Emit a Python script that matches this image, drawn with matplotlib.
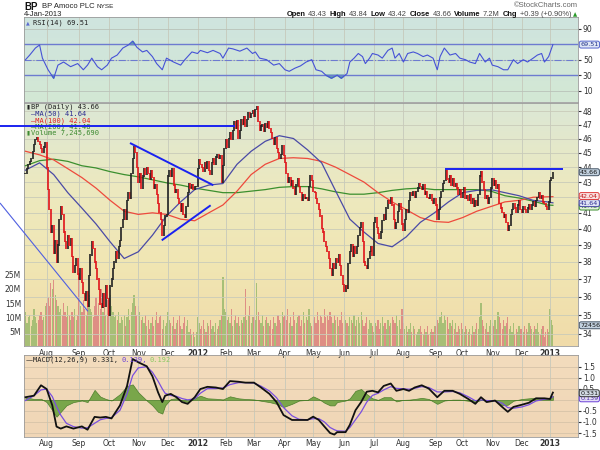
import numpy as np
import pandas as pd
import matplotlib
matplotlib.use("Agg")
import matplotlib.pyplot as plt
from matplotlib.colors import LinearSegmentedColormap
from matplotlib.ticker import FixedLocator, FixedFormatter, NullLocator

##############################################################################
# DATA (Jul-2011 .. 4-Jan-2013)
##############################################################################

holidays = ["2011-09-05", "2011-11-24", "2011-12-26", "2012-01-02", "2012-01-16",
            "2012-02-20", "2012-04-06", "2012-05-28", "2012-07-04", "2012-09-03",
            "2012-10-29", "2012-10-30", "2012-11-22", "2012-12-25", "2013-01-01"]

closes = [
    # Jul 2011
    43.6, 43.9, 44.2, 44.4, 44.6, 45.1, 45.6, 45.9, 46.1, 45.8, 45.6, 45.3, 45.0, 45.4, 45.7,
    # Aug
    44.0, 42.5, 41.2, 39.8, 40.2, 38.5, 39.3, 38.0, 39.0, 40.6, 41.4, 40.9, 39.8, 39.2, 38.8,
    39.6, 39.0, 39.4, 38.3, 37.4, 37.8, 38.2, 37.3,
    # Sep
    37.0, 37.6, 36.8, 36.2, 35.8, 36.3, 35.5, 37.2, 38.4, 39.2, 38.8, 38.0, 37.6, 37.0, 36.4,
    35.6, 35.4, 36.2, 35.5, 36.6, 35.9,
    # Oct
    35.0, 36.6, 37.0, 37.6, 38.0, 38.6, 38.2, 38.9, 39.3, 40.1, 40.6, 41.2, 40.6, 41.8, 42.3,
    41.9, 43.6, 44.6, 45.4, 45.0, 44.0,
    # Nov
    43.0, 43.6, 42.6, 43.4, 43.9, 43.5, 44.0, 43.6, 43.2, 43.8, 43.3, 42.6, 42.8, 42.2, 41.6,
    41.0, 40.6, 39.6, 40.2, 40.8, 40.9,
    # Dec
    43.4, 43.8, 43.4, 43.9, 42.8, 42.3, 42.5, 41.9, 41.6, 41.1, 41.6, 40.9, 40.7, 41.4, 42.3,
    42.9, 42.6, 42.8, 42.5, 42.7, 42.7,
    # Jan 2012
    43.9, 44.5, 44.2, 44.0, 43.7, 44.3, 43.9, 44.4, 43.8, 43.5, 44.3, 44.6, 44.2, 44.7, 44.9,
    44.6, 44.8, 43.0, 44.1, 45.3,
    # Feb
    45.9, 45.4, 46.0, 46.4, 45.9, 46.6, 47.2, 46.7, 47.3, 46.0, 46.6, 47.4, 47.0, 47.6, 46.9,
    47.4, 47.9, 47.5, 47.8, 48.0,
    # Mar
    47.6, 48.1, 48.3, 47.2, 46.6, 46.9, 47.0, 46.5, 47.1, 46.8, 47.2, 46.7, 46.4, 46.0, 45.6,
    46.1, 45.3, 45.0, 44.6, 44.9, 45.5, 44.8,
    # Apr
    44.3, 43.6, 43.0, 43.3, 42.8, 43.1, 42.6, 42.2, 42.8, 43.2, 42.7, 42.3, 41.8, 42.2, 41.9,
    42.0, 41.8, 42.7, 43.4, 43.1,
    # May
    42.4, 42.3, 41.9, 41.6, 41.2, 40.8, 40.0, 39.8, 39.2, 38.9, 38.6, 38.2, 37.6, 37.2, 37.9,
    37.6, 38.2, 38.0, 38.4, 37.8, 37.2, 36.7,
    # Jun
    36.3, 36.6, 36.5, 37.9, 38.6, 39.0, 38.3, 38.9, 38.5, 38.9, 39.6, 40.1, 40.4, 39.2, 38.0,
    37.8, 37.6, 38.2, 38.6, 38.9, 38.4,
    # Jul
    40.4, 40.7, 40.1, 39.7, 39.4, 39.8, 40.5, 40.9, 40.6, 41.3, 41.8, 41.6, 42.0, 41.5, 40.6,
    40.0, 40.4, 41.1, 41.6, 41.2, 40.3,
    # Aug
    39.9, 40.6, 41.2, 41.0, 41.8, 42.3, 42.1, 42.4, 42.0, 42.4, 42.6, 42.9, 42.7, 42.5, 42.8,
    42.2, 42.4, 42.0, 41.9, 42.2, 41.8, 41.6, 41.9,
    # Sep
    41.5, 40.6, 41.2, 42.0, 42.4, 42.9, 43.1, 43.8, 43.2, 43.0, 43.4, 42.8, 43.2, 42.7, 42.9,
    42.6, 42.2, 42.5, 42.0,
    # Oct
    42.3, 42.6, 41.9, 42.1, 41.8, 42.2, 41.6, 41.9, 41.4, 41.8, 41.5, 42.2, 43.4, 43.7, 43.0,
    42.5, 41.9, 42.1, 41.6, 42.0, 42.6,
    # Nov
    43.2, 42.8, 43.1, 42.6, 42.8, 41.6, 41.3, 41.0, 40.7, 40.9, 40.4, 39.9, 40.2, 40.9, 41.2,
    41.6, 41.3, 41.0, 41.5, 41.8, 41.2,
    # Dec
    41.0, 41.4, 41.2, 41.0, 41.3, 41.5, 41.2, 41.5, 41.7, 41.4, 41.8, 42.0, 42.3, 41.9, 42.1,
    41.7, 41.6, 41.4, 41.2, 41.7,
    # Jan 2013
    43.1, 43.27, 43.66,
]

volume_m = [
    12, 8, 10, 11, 7, 9, 13, 10, 8, 9, 11, 12, 9, 10, 14,
    15, 17, 14, 22, 20, 23, 18, 16, 14, 12, 13, 11, 15, 12, 10, 14, 11, 9, 12, 10, 13, 9, 11,
    24, 14, 12, 16, 13, 11, 15, 18, 13, 12, 10, 14, 17, 11, 15, 13, 20, 12, 14, 11, 16,
    16, 18, 14, 12, 10, 11, 9, 12, 8, 10, 9, 11, 7, 10, 13, 9, 12, 15, 18, 14, 11,
    14, 12, 9, 10, 8, 11, 7, 9, 6, 8, 10, 7, 9, 12, 8, 10, 11, 6, 9, 7, 8,
    12, 9, 8, 7, 10, 6, 8, 9, 11, 7, 6, 8, 10, 7, 9, 5, 6, 4, 5, 3, 5,
    10, 8, 6, 7, 9, 6, 5, 8, 7, 9, 6, 7, 5, 8, 6, 7, 9, 11, 24, 13,
    12, 9, 10, 8, 13, 7, 9, 11, 8, 10, 7, 9, 8, 10, 20, 9, 11, 14, 8, 10,
    10, 9, 22, 12, 9, 8, 11, 7, 9, 10, 8, 7, 9, 6, 10, 8, 7, 11, 9, 8, 12, 10,
    11, 9, 13, 8, 10, 7, 12, 9, 8, 10, 11, 7, 9, 12, 8, 10, 9, 13, 8, 7,
    9, 10, 8, 12, 9, 11, 10, 8, 13, 10, 11, 9, 12, 10, 8, 11, 9, 10, 7, 9, 12, 8,
    12, 9, 8, 7, 10, 9, 8, 11, 7, 9, 10, 8, 12, 9, 7, 8, 10, 6, 9, 8, 7,
    5, 8, 7, 9, 6, 8, 10, 7, 8, 6, 9, 7, 8, 10, 9, 8, 11, 7, 9, 6, 13,
    8, 6, 7, 5, 6, 8, 5, 7, 6, 4, 5, 6, 7, 5, 4, 6, 5, 7, 4, 5, 6, 5, 7,
    7, 9, 8, 10, 12, 8, 11, 9, 10, 6, 8, 7, 9, 6, 8, 5, 7, 6, 8,
    6, 5, 7, 6, 5, 6, 4, 7, 5, 6, 8, 6, 10, 15, 9, 7, 6, 8, 5, 7, 9,
    8, 7, 9, 6, 12, 10, 8, 6, 9, 7, 8, 10, 6, 7, 5, 8, 4, 6, 5, 7, 6,
    6, 5, 7, 6, 5, 8, 7, 6, 5, 7, 6, 8, 5, 4, 6, 7, 3, 5, 6, 5,
    13, 9, 7.2,
]

# moving averages, sampled every 10 trading days
ma_day = [0, 10, 20, 30, 40, 50, 60, 70, 80, 90, 100, 110, 120, 130, 140, 150, 160, 170, 180,
          190, 200, 210, 220, 230, 240, 250, 260, 270, 280, 290, 300, 310, 320, 330, 340, 350,
          360, 370, 374]
ma50 = [43.8, 44.3, 43.5, 42.3, 41.3, 40.3, 39.2, 38.2, 38.6, 39.6, 40.8, 41.7, 42.5, 42.8,
        42.9, 44.2, 45.1, 45.8, 46.2, 46.0, 45.2, 44.3, 42.4, 40.6, 39.8, 39.1, 38.9, 39.5,
        40.4, 41.0, 41.7, 42.3, 42.45, 42.5, 42.3, 42.1, 41.8, 41.7, 41.64]
ma100 = [45.1, 44.85, 44.5, 43.9, 43.3, 42.6, 41.8, 41.1, 40.9, 41.0, 40.9, 40.6, 40.5, 41.0,
         41.5, 42.4, 43.5, 44.2, 44.6, 44.65, 44.6, 44.4, 44.0, 43.5, 43.0, 42.3, 41.7, 41.2,
         40.7, 40.45, 40.4, 40.7, 41.1, 41.4, 41.7, 41.8, 42.0, 42.03, 42.04]
ma200 = [44.1, 44.45, 44.55, 44.4, 44.1, 43.95, 43.7, 43.5, 43.35, 43.15, 42.95, 42.8, 42.6,
         42.45, 42.3, 42.3, 42.4, 42.5, 42.65, 42.7, 42.7, 42.55, 42.35, 42.2, 42.2, 42.3,
         42.45, 42.55, 42.6, 42.5, 42.5, 42.5, 42.5, 42.4, 42.1, 41.95, 41.75, 41.5, 41.48]

rsi_day = [0, 3, 7, 10, 12, 16, 20, 23, 27, 32, 37, 41, 44, 47, 51, 54, 58, 61, 65, 69, 73, 76,
           79, 83, 86, 90, 93, 97, 100, 105, 110, 113, 118, 122, 124, 129, 133, 138, 140, 144,
           147, 152, 157, 161, 163, 166, 171, 176, 180, 184, 187, 191, 195, 199, 203, 206, 210,
           213, 217, 221, 224, 228, 230, 233, 236, 239, 241, 244, 246, 250, 253, 257, 260, 262,
           265, 268, 271, 275, 278, 282, 285, 289, 292, 294, 297, 301, 305, 308, 312, 315, 319,
           322, 326, 329, 331, 335, 339, 342, 346, 349, 353, 356, 360, 363, 366, 368, 371, 374]
rsi = [50, 56, 65, 69, 52, 37, 26, 43, 47, 41, 45, 37, 43, 52, 41, 37, 43, 52, 56, 65, 69, 74,
       66, 60, 62, 54, 45, 37, 52, 47, 43, 50, 60, 58, 62, 59, 62, 58, 52, 65,
       64, 61, 65, 58, 60, 52, 50, 43, 45, 37, 35, 39, 42, 47, 50, 37, 35,
       30, 26, 30, 26, 32, 47, 52, 58, 54, 45, 52, 58, 56, 52, 62, 65, 52,
       58, 47, 58, 60, 58, 54, 56, 52, 37, 54, 65, 56, 58, 52, 50, 47, 45,
       58, 47, 52, 43, 41, 37, 37, 50, 45, 50, 47, 52, 56, 58, 47, 54, 69.5]

macd_day = [0, 6, 11, 15, 19, 22, 25, 29, 34, 40, 44, 49, 53, 57, 61, 67, 72, 76, 80, 86,
            90, 94, 97, 99, 103, 107, 111, 115, 120, 124, 129, 135, 140, 145, 151, 156, 162,
            167, 173, 178, 183, 189, 194, 200, 204, 208, 212, 216, 219, 221, 227, 230, 234,
            238, 242, 246, 250, 254, 259, 263, 268, 272, 276, 281, 286, 292, 297, 303, 308,
            314, 319, 323, 327, 333, 338, 342, 346, 352, 357, 362, 368, 372, 374]
macd = [0.12, 0.19, 0.66, 0.49, -0.25, -1.21, -1.3, -1.2, -1.3, -1.2,
        -1.35, -0.77, -0.8, -0.77, -0.84, -0.25, 0.63, 1.85, 1.7, 1.52,
        1.07, 0.34, -0.1, 0.19, 0.27, 0.12, -0.1, -0.18, 0.12, 0.49,
        0.59, 0.56, 0.49, 0.85, 0.82, 0.78, 0.78, 0.56, 0.27, -0.1,
        -0.69, -0.91, -0.91, -0.91, -0.76, -0.91, -1.21, -1.5, -1.57, -1.46,
        -1.46, -1.13, -0.47, -0.1, 0.37, 0.41, 0.34, 0.63, 0.74, 0.41,
        0.49, 0.41, 0.56, 0.66, 0.51, 0.12, 0.41, 0.41, 0.27, 0.04,
        -0.18, 0.12, -0.1, -0.03, -0.32, -0.54, -0.32, -0.22, -0.13, 0.07,
        0.07, 0.04, 0.33]
signal = [-0.03, 0.19, 0.45, 0.49, 0.15, -0.3, -0.69, -1.06, -1.21, -1.28,
          -1.26, -1.06, -0.9, -0.84, -0.8, -0.47, 0.27, 1.1, 1.45, 1.5,
          1.25, 0.85, 0.5, 0.3, 0.2, 0.16, 0.06, 0.0, 0.05, 0.3,
          0.51, 0.51, 0.54, 0.69, 0.78, 0.78, 0.76, 0.62, 0.4, 0.1,
          -0.35, -0.72, -0.88, -0.9, -0.85, -0.85, -1.0, -1.25, -1.35, -1.4,
          -1.42, -1.25, -0.9, -0.55, -0.1, 0.2, 0.3, 0.45, 0.6, 0.52,
          0.5, 0.48, 0.52, 0.6, 0.56, 0.36, 0.36, 0.38, 0.32, 0.14,
          -0.04, 0.0, -0.03, -0.05, -0.15, -0.35, -0.38, -0.32, -0.22, -0.05,
          0.03, 0.06, 0.14]
hist = [0.12, 0.04, 0.05, -0.1, -0.47, -0.76, -0.54, -0.25, -0.1, -0.03,
        -0.1, 0.45, 0.15, 0.04, -0.03, 0.26, 0.63, 0.7, 0.34, -0.03,
        -0.25, -0.54, -0.62, -0.25, 0.04, 0.07, -0.03, -0.1, 0.07, 0.19,
        0.07, 0.05, 0.02, 0.16, 0.07, 0.04, 0.02, -0.04, -0.1, -0.18,
        -0.32, -0.18, -0.03, 0.0, 0.16, 0.04, -0.13, -0.25, -0.25, -0.1,
        -0.03, 0.07, 0.41, 0.49, 0.26, 0.07, 0.0, 0.12, 0.12, -0.07,
        0.0, 0.01, 0.04, 0.09, 0.04, -0.18, -0.03, 0.01, 0.01, -0.04,
        -0.1, 0.0, -0.03, -0.03, -0.25, -0.22, -0.04, 0.04, 0.07, 0.1,
        0.07, 0.04, 0.19]

# hand-drawn annotation lines: (trading day, price) end points
trend_lines = [
    ((-18.1, 41.63), (44.3, 35.2), "#4f5fe0", 0.8),    # long falling diagonal
    ((-18.1, 46.92), (148.6, 46.92), "#1a22f0", 1.4),  # old support/resistance
    ((74.1, 45.68), (133.2, 42.79), "#1a22f0", 1.4),   # falling wedge top
    ((96.6, 39.29), (131.3, 41.48), "#1a22f0", 1.4),   # rising wedge bottom
    ((297.5, 43.9), (381.1, 43.9), "#1a22f0", 1.4),    # Sep-2012 high
]

price_ticks = [34, 35, 36, 37, 38, 39, 40, 41, 42, 43, 44, 45, 46, 47, 48]
vol_ticks = [5, 10, 15, 20, 25]
rsi_ticks = [10, 30, 50, 90]
macd_ticks = [-1.5, -1.0, -0.5, 0.5, 1.0, 1.5]

##############################################################################
# LAYOUT HELPERS
##############################################################################

W, H = 600, 450
X0, X1 = 24, 578
XLIM = (-1.06, 391.8)
FONT = "DejaVu Sans"
MONO = "DejaVu Sans Mono"
HEAD = "Liberation Sans"
plt.rcParams["font.family"] = FONT

def fx(x): return x / W
def fy(y): return 1 - y / H

fig = plt.figure(figsize=(6, 4.5), dpi=100)
renderer = fig.canvas.get_renderer()

def panel(top, bottom, colors):
    rect = [fx(X0), fy(bottom), (X1 - X0) / W, (bottom - top) / H]
    bg = fig.add_axes(rect, zorder=0)
    bg.axis("off")
    grad = np.linspace(0, 1, 256)[:, None]
    bg.imshow(grad, aspect="auto", origin="upper", extent=(0, 1, 0, 1),
              cmap=LinearSegmentedColormap.from_list("bg", colors))
    ax = fig.add_axes(rect, zorder=2)
    ax.patch.set_visible(False)
    for s in ax.spines.values():
        s.set_color("#9a9a9a"); s.set_linewidth(0.6)
    ax.set_xlim(*XLIM)
    return ax, rect

def value_box(ax, y, txt, ec, fc, tc, trans=None):
    ax.text(1.004, y, txt, transform=trans or ax.get_yaxis_transform(), ha="left", va="center",
            fontsize=4.6, color=tc, zorder=10, clip_on=False,
            bbox=dict(boxstyle="round,pad=0.15,rounding_size=0.3", fc=fc, ec=ec, lw=0.7))

def text_run(pieces, x, y, align="left", gap=2.0, **kw):
    """Lay out pieces of text one after another (pixel coords, measured widths)."""
    seq = pieces if align == "left" else pieces[::-1]
    for txt, style in seq:
        t = fig.text(fx(x), fy(y), txt, va="center", ha=align, **{**kw, **style})
        w = t.get_window_extent(renderer).width
        x = x + w + gap if align == "left" else x - w - gap
    return x

##############################################################################
# CALENDAR
##############################################################################

days = pd.bdate_range("2011-07-11", "2013-01-04")
days = days[~days.isin(pd.to_datetime(holidays))]
idx = np.arange(len(days))
assert len(closes) == len(days) == len(volume_m), (len(closes), len(days), len(volume_m))

first = pd.Series(idx, index=days).groupby([days.year, days.month]).first()
month_pos, month_lab = [], []
for (yr, mo), i in list(first.items())[1:]:
    month_pos.append(i)
    month_lab.append(str(yr) if mo == 1 else pd.Timestamp(yr, mo, 1).strftime("%b"))

closes = np.asarray(closes, float)
opens = np.r_[closes[0], closes[:-1]]
up = closes >= opens

def month_axis(ax, labels, pad=2.5):
    ax.set_xticks(month_pos)
    ax.set_xticklabels(month_lab if labels else [])
    ax.tick_params(axis="x", length=0, pad=pad, labelsize=5.5, colors="#333333")
    for t in ax.get_xticklabels():
        if t.get_text().isdigit():
            t.set_fontweight("bold")
    ax.grid(True, axis="x", color="#c6c9bb", lw=0.6)

##############################################################################
# RSI PANEL
##############################################################################

ax_r, _ = panel(17, 102, ["#cfe4df", "#d3e8d4"])
ax_r.set_ylim(-4.6, 105.1)
ax_r.yaxis.tick_right()
ax_r.set_yticks(rsi_ticks)
ax_r.set_yticklabels([str(t) for t in rsi_ticks])
ax_r.tick_params(axis="y", length=2, pad=1.5, labelsize=5.5, colors="#333333")
ax_r.grid(True, axis="y", color="#b9c2b9", lw=0.6)
month_axis(ax_r, False)
ax_r.axhline(70, color="#6d7bd0", lw=1.0)
ax_r.axhline(30, color="#6d7bd0", lw=1.0)
ax_r.axhline(50, color="#6d7bd0", lw=0.8, ls="-.")
ax_r.fill_between(rsi_day, rsi, 70, where=np.array(rsi) > 70, interpolate=True, color="#5aa5a8")
ax_r.fill_between(rsi_day, rsi, 30, where=np.array(rsi) < 30, interpolate=True, color="#5aa5a8")
ax_r.plot(rsi_day, rsi, color="#4652d6", lw=0.8)
ax_r.text(0.016, 0.93, "RSI(14) 69.51", transform=ax_r.transAxes, fontsize=5, family=MONO,
          color="#222222", va="center")
ax_r.text(0.004, 0.93, "▲", transform=ax_r.transAxes, fontsize=3.5, color="#5a6ad0", va="center")
value_box(ax_r, rsi[-1], "69.51", "#5566cc", "#dfe6f6", "#223388")

##############################################################################
# PRICE + VOLUME PANEL
##############################################################################

ax_p, rect_p = panel(103, 346, ["#dbe7d6", "#ece9c0", "#f1e6b3", "#f0dba9"])
vax = fig.add_axes(rect_p, zorder=1, sharex=ax_p)
vax.patch.set_visible(False)
for s in vax.spines.values():
    s.set_visible(False)
vax.set_ylim(0, 85)
vax.set_yticks(vol_ticks)
vax.set_yticklabels([f"{v}M" for v in vol_ticks])
vax.tick_params(axis="y", length=0, pad=2, labelsize=5.5, colors="#333333")
vax.tick_params(axis="x", bottom=False, labelbottom=False)
vcol = np.where(np.r_[True, closes[1:] >= closes[:-1]], "#8fb565", "#d97478")
vax.bar(idx, volume_m, width=0.85, color=vcol, alpha=0.75, linewidth=0)

ax_p.set_yscale("log")
ax_p.set_ylim(33.36, 48.6)
ax_p.yaxis.tick_right()
ax_p.yaxis.set_major_locator(FixedLocator(price_ticks))
ax_p.yaxis.set_major_formatter(FixedFormatter([str(t) for t in price_ticks]))
ax_p.yaxis.set_minor_locator(NullLocator())
ax_p.tick_params(axis="y", length=2, pad=1.5, labelsize=5.5, colors="#333333")
ax_p.grid(True, axis="y", color="#c9cbb9", lw=0.6)
month_axis(ax_p, True, pad=2.0)
ax_p.set_xlim(*XLIM)

ax_p.plot(ma_day, ma200, color="#3b8f2e", lw=0.9, zorder=3)
ax_p.plot(ma_day, ma100, color="#ee4a3c", lw=0.9, zorder=3)
ax_p.plot(ma_day, ma50, color="#4a4aa6", lw=0.9, zorder=3)
lo = np.minimum(opens, closes) - 0.04
hi = np.maximum(opens, closes) + 0.04
ax_p.vlines(idx, lo, hi, colors=np.where(up, "#222222", "#e0141a"), lw=1.2, zorder=4)

for (xa, ya), (xb, yb), col, lw in trend_lines:
    ax_p.plot([xa, xb], [ya, yb], color=col, lw=lw, zorder=6, clip_on=False,
              solid_capstyle="butt")

legend = [("BP (Daily) 43.66", "#222222", 107),
          ("—MA(50) 41.64", "#2a2a90", 113.7),
          ("—MA(100) 42.04", "#e02020", 120.3),
          ("—MA(200) 41.48", "#2f7d25", 127),
          ("Volume 7,245,690", "#3d8a30", 133.4)]
for txt, col, y in legend:
    ax_p.text(7 / (X1 - X0), (346 - y) / 243, txt, transform=ax_p.transAxes,
              fontsize=5, family=MONO, color=col, va="center", zorder=5)
ax_p.text(0.004, (346 - 107) / 243, "▮", transform=ax_p.transAxes, fontsize=4, color="#222222",
          va="center", zorder=5)
ax_p.text(0.004, (346 - 133.4) / 243, "▮", transform=ax_p.transAxes, fontsize=4, color="#3d8a30",
          va="center", zorder=5)

value_box(ax_p, 41.40, "41.48", "#3b8f2e", "#e2f0dc", "#2a6a20")
value_box(ax_p, 41.62, "41.64", "#4a4aa6", "#dfe3f5", "#2a2a90")
value_box(ax_p, 42.08, "42.04", "#e04040", "#f9e1e1", "#c01818")
value_box(ax_p, 43.66, "43.66", "#445566", "#c3d2e0", "#111111")
value_box(vax, 7.2457, "7245690", "#445566", "#c3d2e0", "#111111")

##############################################################################
# MACD PANEL
##############################################################################

ax_m, _ = panel(355, 437, ["#f3dcbd", "#f0d6b6"])
ax_m.set_ylim(-1.68, 2.03)
ax_m.yaxis.tick_right()
ax_m.set_yticks(macd_ticks)
ax_m.set_yticklabels([f"{t:.1f}" for t in macd_ticks])
ax_m.tick_params(axis="y", length=2, pad=1.5, labelsize=5.5, colors="#333333")
ax_m.grid(True, axis="y", color="#d6c3a8", lw=0.6)
ax_m.axhline(0, color="#d6c3a8", lw=0.6)
month_axis(ax_m, True, pad=1.5)
ax_m.fill_between(macd_day, hist, 0, color="#79a64a", lw=0.5, edgecolor="#4e7f2c", zorder=2)
ax_m.plot(macd_day, signal, color="#7a4fe0", lw=0.9, zorder=3)
ax_m.plot(macd_day, macd, color="#111111", lw=1.3, zorder=4)
value_box(ax_m, 0.07, "0.139", "#6a3fd8", "#e6e0f6", "#4a28a8")
value_box(ax_m, 0.30, "0.331", "#333333", "#d5dde6", "#111111")

mono = {"family": MONO, "fontsize": 5, "zorder": 6}
fig.text(fx(26), fy(360), "—", fontsize=5, va="center", color="#111111")
text_run([("MACD(12,26,9) 0.331,", {"color": "#222222"}),
          ("0.139,", {"color": "#6a3fd8"}),
          ("0.192", {"color": "#8ac860"})], 33, 360, gap=3, **mono)

##############################################################################
# HEADER TEXT
##############################################################################

x_after = text_run([("BP", {"fontsize": 7, "fontweight": "bold", "color": "#111111"})],
                   24.5, 6.5, family=HEAD)
text_run([("BP Amoco PLC", {"fontsize": 5.5}), ("NYSE", {"fontsize": 4.6})], x_after + 1.5, 6.5,
         gap=2.5, color="#222222", family=HEAD)
fig.text(fx(24), fy(15), "4-Jan-2013", fontsize=5.5, va="center", color="#222222", family=HEAD)
fig.text(fx(578), fy(5.5), "©StockCharts.com", fontsize=5.5, va="center", ha="right",
         color="#666666", family=HEAD)
B = {"fontweight": "bold", "color": "#111111"}
N = {"color": "#444444"}
info = [("Open", B), ("43.43", N), ("High", B), ("43.84", N), ("Low", B), ("43.42", N),
        ("Close", B), ("43.66", N), ("Volume", B), ("7.2M", N), ("Chg", B),
        ("+0.39 (+0.90%)", N)]
text_run(info, 571, 14.5, align="right", gap=2.6, fontsize=5.4, family=HEAD)
fig.text(fx(573), fy(14.5), "▲", fontsize=4, va="center", color="#2a9a2a")

fig.savefig("out.png", dpi=100)
